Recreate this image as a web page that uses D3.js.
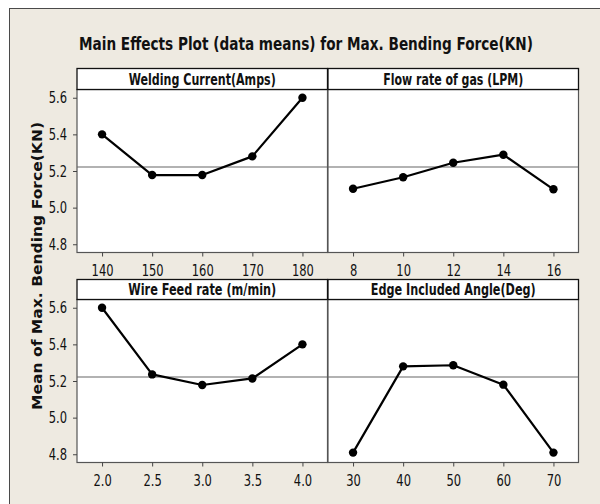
<!DOCTYPE html>
<html>
<head>
<meta charset="utf-8">
<script src="https://cdn.jsdelivr.net/npm/d3@7"></script>
<style>
  body { margin: 0; background: #ffffff; }
</style>
</head>
<body>
<svg id="chart" width="600" height="504"></svg>
<script>
// ---- data -------------------------------------------------------------
const chartTitle = "Main Effects Plot (data means) for Max. Bending Force(KN)";
const yLabel = "Mean of Max. Bending Force(KN)";
const factorNames = ["Welding Current(Amps)", "Flow rate of gas (LPM)",
                     "Wire Feed rate (m/min)", "Edge Included Angle(Deg)"];

const currentLevels = ["140", "150", "160", "170", "180"];
const currentMeans  = [5.40, 5.178, 5.178, 5.28, 5.60];

const gasLevels = ["8", "10", "12", "14", "16"];
const gasMeans  = [5.103, 5.166, 5.245, 5.289, 5.10];

const feedLevels = ["2.0", "2.5", "3.0", "3.5", "4.0"];
const feedMeans  = [5.60, 5.236, 5.178, 5.214, 5.40];

const angleLevels = ["30", "40", "50", "60", "70"];
const angleMeans  = [4.809, 5.28, 5.286, 5.18, 4.809];

const grandMean = 5.222;
const yTicks = [4.8, 5.0, 5.2, 5.4, 5.6];
const yDomain = [4.755, 5.645];

// ---- layout -----------------------------------------------------------
const svg = d3.select("#chart");
const colX = [77, 328];
const colW = 250.5;
const rows = [
  { stripTop: 68.5, stripH: 21, plotTop: 89.5, plotBottom: 252.5 },
  { stripTop: 279.5, stripH: 20, plotTop: 299.5, plotBottom: 462.5 }
];
const tickFont = "'DejaVu Sans Condensed', 'DejaVu Sans', sans-serif";
const tickScale = 0.8;

const panels = [
  { name: factorNames[0], levels: currentLevels, means: currentMeans, col: 0, row: 0, labelW: 147 },
  { name: factorNames[1], levels: gasLevels,     means: gasMeans,     col: 1, row: 0, labelW: 140 },
  { name: factorNames[2], levels: feedLevels,    means: feedMeans,    col: 0, row: 1, labelW: 148 },
  { name: factorNames[3], levels: angleLevels,   means: angleMeans,   col: 1, row: 1, labelW: 165 }
];

// background sheet with its frame edge
svg.append("rect")
  .attr("x", 9.5).attr("y", 8.5)
  .attr("width", 600).attr("height", 510)
  .attr("fill", "#eeeae1")
  .attr("stroke", "#4a4a4a").attr("stroke-width", 1);

// title
svg.append("text")
  .attr("x", 79).attr("y", 50)
  .attr("font-family", "'DejaVu Sans Condensed', 'DejaVu Sans', sans-serif")
  .attr("font-weight", "bold")
  .attr("font-size", 17.5)
  .attr("fill", "#111")
  .attr("textLength", 454)
  .attr("lengthAdjust", "spacingAndGlyphs")
  .text(chartTitle);

// shared y label
svg.append("text")
  .attr("transform", "translate(42,266) rotate(-90)")
  .attr("text-anchor", "middle")
  .attr("font-family", "'DejaVu Sans', sans-serif")
  .attr("font-weight", "bold")
  .attr("font-size", 14.5)
  .attr("fill", "#111")
  .attr("textLength", 288)
  .attr("lengthAdjust", "spacingAndGlyphs")
  .text(yLabel);

panels.forEach(p => {
  const r = rows[p.row];
  const x0 = colX[p.col];
  const x = d3.scalePoint().domain(p.levels).range([x0, x0 + colW]).padding(0.5);
  const y = d3.scaleLinear().domain(yDomain).range([r.plotBottom, r.plotTop]);
  const g = svg.append("g");

  // plot area
  g.append("rect")
    .attr("x", x0).attr("y", r.plotTop)
    .attr("width", colW).attr("height", r.plotBottom - r.plotTop)
    .attr("fill", "#ffffff")
    .attr("stroke", "#555").attr("stroke-width", 1.2);

  // grand mean reference line
  g.append("line")
    .attr("x1", x0).attr("x2", x0 + colW)
    .attr("y1", y(grandMean)).attr("y2", y(grandMean))
    .attr("stroke", "#666").attr("stroke-width", 1.1);

  // factor means
  const pts = p.levels.map((lv, i) => [x(lv), y(p.means[i])]);
  g.append("path")
    .attr("d", d3.line()(pts))
    .attr("fill", "none")
    .attr("stroke", "#000").attr("stroke-width", 2.2)
    .attr("stroke-linejoin", "round");
  g.selectAll("circle.pt").data(pts).join("circle")
    .attr("class", "pt")
    .attr("cx", d => d[0]).attr("cy", d => d[1])
    .attr("r", 4.2).attr("fill", "#000");

  // strip header
  g.append("rect")
    .attr("x", x0).attr("y", r.stripTop)
    .attr("width", colW).attr("height", r.stripH)
    .attr("fill", "#ffffff")
    .attr("stroke", "#111").attr("stroke-width", 1.3);
  g.append("text")
    .attr("x", x0 + colW / 2).attr("y", r.stripTop + r.stripH - 5)
    .attr("text-anchor", "middle")
    .attr("font-family", "'DejaVu Sans Condensed', 'DejaVu Sans', sans-serif")
    .attr("font-weight", "bold")
    .attr("font-size", 15)
    .attr("fill", "#111")
    .attr("textLength", p.labelW)
    .attr("lengthAdjust", "spacingAndGlyphs")
    .text(p.name);

  // x axis
  const xa = g.append("g")
    .attr("transform", `translate(0,${r.plotBottom})`)
    .call(d3.axisBottom(x).tickSize(4).tickPadding(8));
  xa.select(".domain").remove();
  xa.selectAll(".tick line").attr("stroke", "#444");
  xa.selectAll(".tick text")
    .attr("font-family", tickFont).attr("font-size", 16).attr("fill", "#111")
    .attr("transform", `scale(${tickScale},1)`);

  // y axis on the left column only
  if (p.col === 0) {
    const ya = g.append("g")
      .attr("transform", `translate(${x0},0)`)
      .call(d3.axisLeft(y).tickValues(yTicks).tickFormat(d3.format(".1f")).tickSize(4));
    ya.select(".domain").remove();
    ya.selectAll(".tick line").attr("stroke", "#444");
    ya.selectAll(".tick text")
      .attr("font-family", tickFont).attr("font-size", 16).attr("fill", "#111")
      .attr("x", -10 / tickScale)
      .attr("transform", `scale(${tickScale},1)`);
  }
});
</script>
</body>
</html>
